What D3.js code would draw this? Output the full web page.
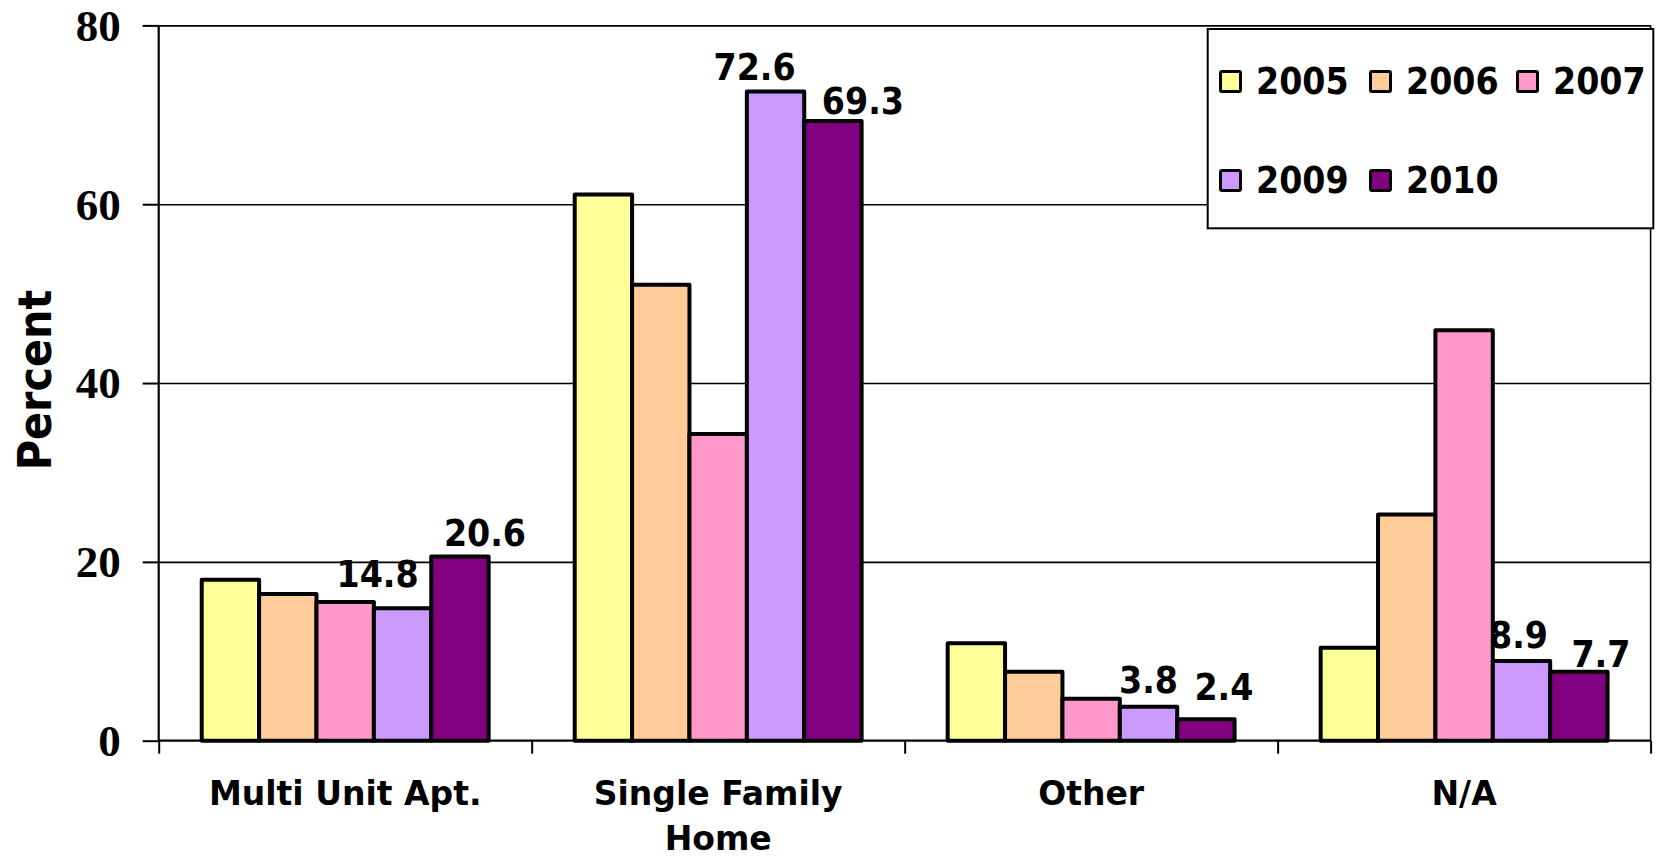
<!DOCTYPE html>
<html>
<head>
<meta charset="utf-8">
<script src="https://cdn.jsdelivr.net/npm/d3@7/dist/d3.min.js"></script>
<style>
  html, body { margin: 0; padding: 0; background: #fff; }
  svg { display: block; }
  .lbl { font-family: "DejaVu Sans Condensed", "DejaVu Sans", sans-serif; font-stretch: condensed; font-weight: bold; }
  .cat { font-family: "DejaVu Sans", sans-serif; font-weight: bold; }
  .tick-num { font-family: "Liberation Serif", "Times New Roman", serif; font-weight: bold; }
</style>
</head>
<body>
<svg id="chart" width="1659" height="860"></svg>
<script>
// ---- data ----
const categories = ["Multi Unit Apt.", "Single Family Home", "Other", "N/A"];
const categoryLines = [["Multi Unit Apt."], ["Single Family", "Home"], ["Other"], ["N/A"]];
const years = ["2005", "2006", "2007", "2009", "2010"];
const values2005 = [18.0, 61.1, 10.9, 10.4];
const values2006 = [16.4, 51.0, 7.7, 25.3];
const values2007 = [15.5, 34.3, 4.7, 45.9];
const values2009 = [14.8, 72.6, 3.8, 8.9];
const values2010 = [20.6, 69.3, 2.4, 7.7];
const yTicks = [0, 20, 40, 60, 80];
const labeledYears = ["2009", "2010"];

// ---- styles / layout ----
const colors = { "2005": "#FFFF99", "2006": "#FFCC99", "2007": "#FF99CC", "2009": "#CC99FF", "2010": "#800080" };
// manual nudges of the value labels [dx, dy] per category, for 2009 and 2010
const labelNudge = {
  "2009": [[-25, -12], [-21, -3], [0, -5], [-3, -4]],
  "2010": [[25, -2], [30, 2], [18, -10], [22, 4]]
};

const seriesValues = { "2005": values2005, "2006": values2006, "2007": values2007, "2009": values2009, "2010": values2010 };

const svg = d3.select("#chart");
const plotLeft = 158.7, plotRight = 1650.6, plotTop = 25.4, plotBottom = 740.7;

const x0 = d3.scaleBand().domain(categories).range([plotLeft, plotRight]).padding(0);
const x1 = d3.scaleBand().domain(years).range([0, x0.bandwidth()]).paddingInner(0).paddingOuter(0.75);
const y = d3.scaleLinear().domain([0, 80]).range([plotBottom, plotTop]);

// gridlines
const grid = svg.append("g").attr("transform", `translate(${plotLeft},0)`)
  .call(d3.axisLeft(y).tickValues(yTicks.filter(d => d > 0)).tickSize(-(plotRight - plotLeft)).tickFormat(""));
grid.select(".domain").remove();
grid.selectAll("line").attr("stroke", "#000").attr("stroke-width", 1.6);

// plot right border
svg.append("line").attr("x1", plotRight).attr("x2", plotRight).attr("y1", plotTop).attr("y2", plotBottom)
  .attr("stroke", "#000").attr("stroke-width", 1.6);

// bars
const groups = svg.append("g").selectAll("g").data(categories).join("g")
  .attr("transform", d => `translate(${x0(d)},0)`);
groups.selectAll("rect").data((c, ci) => years.map(yr => ({ yr, v: seriesValues[yr][ci] }))).join("rect")
  .attr("x", d => x1(d.yr))
  .attr("y", d => y(d.v))
  .attr("width", x1.bandwidth())
  .attr("height", d => y(0) - y(d.v))
  .attr("fill", d => colors[d.yr])
  .attr("stroke", "#000").attr("stroke-width", 4).attr("stroke-linejoin", "round");

// y axis
const yAxis = svg.append("g").attr("transform", `translate(${plotLeft},0)`)
  .call(d3.axisLeft(y).tickValues(yTicks).tickSize(16).tickPadding(22).tickFormat(d3.format("d")));
yAxis.select(".domain").attr("stroke", "#000").attr("stroke-width", 2.2).attr("d", `M0,${plotTop}V${plotBottom}`);
yAxis.selectAll("line").attr("stroke", "#000").attr("stroke-width", 2);
yAxis.selectAll("text").attr("class", "tick-num").attr("font-size", 45).attr("fill", "#000").attr("dy", "0.33em");

// x axis
const xAxisScale = d3.scaleLinear().domain([0, categories.length]).range([plotLeft, plotRight]);
const xAxis = svg.append("g").attr("transform", `translate(0,${plotBottom})`)
  .call(d3.axisBottom(xAxisScale).tickValues(d3.range(categories.length + 1)).tickSize(13).tickFormat(""));
xAxis.select(".domain").attr("stroke", "#000").attr("stroke-width", 2.2).attr("d", `M${plotLeft},0H${plotRight}`);
xAxis.selectAll("line").attr("stroke", "#000").attr("stroke-width", 2);

// category labels
svg.append("g").selectAll("text").data(categories).join("text")
  .attr("class", "cat").attr("font-size", 33).attr("text-anchor", "middle")
  .attr("x", d => x0(d) + x0.bandwidth() / 2).attr("y", 805)
  .selectAll("tspan").data((d, i) => categoryLines[i]).join("tspan")
  .attr("x", function () { return d3.select(this.parentNode).attr("x"); })
  .attr("dy", (d, i) => i === 0 ? 0 : 45)
  .text(d => d);

// value labels
labeledYears.forEach(yr => {
  svg.append("g").selectAll("text").data(categories).join("text")
    .attr("class", "lbl").attr("font-size", 37).attr("text-anchor", "middle")
    .attr("x", (c, i) => x0(c) + x1(yr) + x1.bandwidth() / 2 + labelNudge[yr][i][0])
    .attr("y", (c, i) => y(seriesValues[yr][i]) - 9 + labelNudge[yr][i][1])
    .text((c, i) => d3.format(".1f")(seriesValues[yr][i]));
});

// y axis title
svg.append("text").attr("class", "lbl").attr("font-size", 46).attr("text-anchor", "middle")
  .attr("transform", "translate(50.5,380) rotate(-90)").text("Percent");

// legend
const legend = svg.append("g");
legend.append("rect").attr("x", 1207.7).attr("y", 29).attr("width", 445.6).attr("height", 199.3)
  .attr("fill", "#fff").attr("stroke", "#000").attr("stroke-width", 2);
const legendPos = [[1219, 70], [1369, 70], [1516, 70], [1219, 169], [1369, 169]];
const items = legend.selectAll("g").data(years).join("g")
  .attr("transform", (d, i) => `translate(${legendPos[i][0]},${legendPos[i][1]})`);
items.append("rect").attr("x", 1.5).attr("y", 1.5).attr("width", 20).attr("height", 20)
  .attr("fill", d => colors[d]).attr("stroke", "#000").attr("stroke-width", 3).attr("rx", 1.5);
items.append("text").attr("class", "lbl").attr("font-size", 37)
  .attr("x", 37).attr("y", 24).text(d => d);
</script>
</body>
</html>
